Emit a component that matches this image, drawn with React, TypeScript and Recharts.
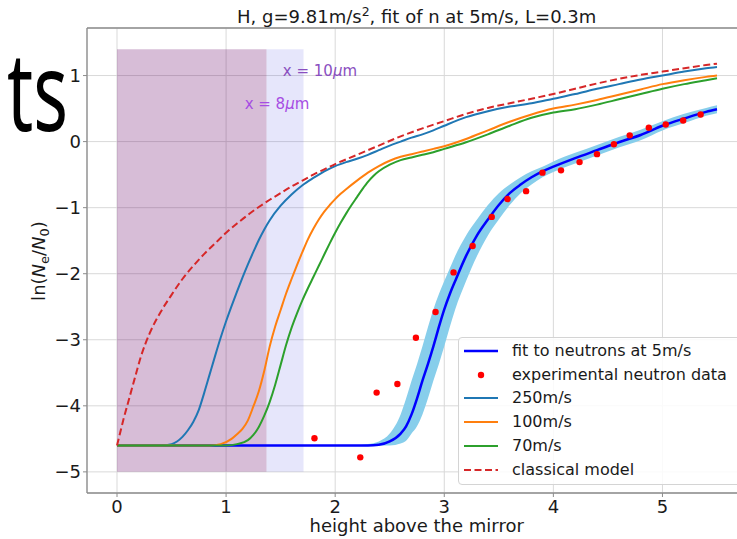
import {
  ComposedChart,
  Line,
  Area,
  Scatter,
  XAxis,
  YAxis,
  CartesianGrid,
  ReferenceArea,
  ReferenceLine,
  ReferenceDot,
  Legend,
} from 'recharts';

const FONT = '"DejaVu Sans", sans-serif';

// x = height above the mirror, y = ln(Ne/N0)
const fitCurve: [number, number][] = [
  [0, -4.6], [1, -4.6], [2, -4.6], [2.3, -4.6], [2.4, -4.59], [2.5, -4.54], [2.6, -4.42],
  [2.65, -4.31], [2.7, -4.13], [2.75, -3.89], [2.8, -3.62], [2.85, -3.37], [2.9, -3.1],
  [2.95, -2.81], [3.0, -2.54], [3.05, -2.31], [3.1, -2.11], [3.2, -1.73], [3.3, -1.42],
  [3.4, -1.18], [3.5, -0.96], [3.6, -0.78], [3.7, -0.65], [3.8, -0.54], [3.9, -0.45],
  [4.0, -0.38], [4.2, -0.25], [4.4, -0.13], [4.6, -0.01], [4.8, 0.1], [5.0, 0.24],
  [5.2, 0.35], [5.4, 0.45], [5.5, 0.49],
];

// [x, low, high] of the uncertainty band around the fit
const fitBand: [number, number, number][] = [
  [2.2, -4.6, -4.6], [2.3, -4.6, -4.58], [2.4, -4.6, -4.54], [2.5, -4.6, -4.42],
  [2.6, -4.57, -4.13], [2.65, -4.53, -3.89], [2.7, -4.42, -3.62], [2.75, -4.31, -3.37],
  [2.8, -4.13, -3.1], [2.85, -3.89, -2.81], [2.9, -3.62, -2.54], [2.95, -3.37, -2.31],
  [3.0, -3.1, -2.11], [3.05, -2.81, -1.92], [3.1, -2.54, -1.73], [3.2, -2.11, -1.42],
  [3.3, -1.73, -1.18], [3.4, -1.42, -0.96], [3.5, -1.18, -0.78], [3.6, -0.96, -0.65],
  [3.7, -0.78, -0.54], [3.8, -0.65, -0.45], [3.9, -0.54, -0.38], [4.0, -0.46, -0.3],
  [4.2, -0.33, -0.17], [4.4, -0.21, -0.05], [4.6, -0.09, 0.07], [4.8, 0.02, 0.18],
  [5.0, 0.17, 0.31], [5.2, 0.28, 0.42], [5.4, 0.39, 0.51], [5.5, 0.43, 0.55],
];

const neutronData: [number, number][] = [
  [1.81, -4.49], [2.23, -4.78], [2.38, -3.8], [2.57, -3.67], [2.74, -2.97], [2.92, -2.58],
  [3.085, -1.98], [3.26, -1.58], [3.435, -1.14], [3.58, -0.87], [3.75, -0.75], [3.9, -0.47],
  [4.07, -0.435], [4.24, -0.31], [4.4, -0.19], [4.555, -0.04], [4.7, 0.095], [4.875, 0.21],
  [5.03, 0.26], [5.19, 0.32], [5.35, 0.41],
];

const v250: [number, number][] = [
  [0, -4.6], [0.4, -4.6], [0.5, -4.58], [0.55, -4.54], [0.6, -4.47], [0.65, -4.37],
  [0.7, -4.24], [0.75, -4.06], [0.8, -3.8], [0.85, -3.52], [0.9, -3.24], [0.95, -2.97],
  [1.0, -2.72], [1.05, -2.49], [1.1, -2.27], [1.15, -2.06], [1.2, -1.86], [1.25, -1.67],
  [1.3, -1.49], [1.35, -1.33], [1.4, -1.19], [1.5, -0.97], [1.6, -0.8], [1.7, -0.66],
  [1.8, -0.55], [1.9, -0.45], [2.0, -0.37], [2.1, -0.31], [2.2, -0.26], [2.3, -0.2],
  [2.4, -0.13], [2.5, -0.06], [2.6, 0.0], [2.7, 0.06], [2.8, 0.11], [2.9, 0.17], [3.0, 0.24],
  [3.2, 0.37], [3.4, 0.46], [3.6, 0.53], [3.8, 0.58], [4.0, 0.65], [4.2, 0.72], [4.4, 0.8],
  [4.6, 0.87], [4.8, 0.94], [5.0, 1.0], [5.2, 1.06], [5.4, 1.11], [5.5, 1.13],
];

const v100: [number, number][] = [
  [0, -4.6], [0.85, -4.6], [0.95, -4.58], [1.05, -4.5], [1.1, -4.43], [1.15, -4.35],
  [1.2, -4.22], [1.25, -4.01], [1.3, -3.78], [1.35, -3.47], [1.4, -3.1], [1.45, -2.8],
  [1.5, -2.55], [1.55, -2.3], [1.6, -2.08], [1.65, -1.87], [1.7, -1.67], [1.75, -1.48],
  [1.8, -1.32], [1.85, -1.18], [1.9, -1.06], [1.95, -0.96], [2.0, -0.87], [2.05, -0.79],
  [2.1, -0.72], [2.2, -0.59], [2.3, -0.47], [2.4, -0.37], [2.5, -0.29], [2.6, -0.23],
  [2.7, -0.19], [2.8, -0.15], [2.9, -0.11], [3.0, -0.07], [3.2, 0.04], [3.4, 0.17],
  [3.6, 0.3], [3.8, 0.41], [4.0, 0.5], [4.2, 0.56], [4.4, 0.63], [4.6, 0.71], [4.8, 0.79],
  [5.0, 0.87], [5.2, 0.93], [5.4, 0.98], [5.5, 1.0],
];

const v70: [number, number][] = [
  [0, -4.6], [1.0, -4.6], [1.1, -4.58], [1.2, -4.52], [1.25, -4.44], [1.3, -4.32],
  [1.35, -4.15], [1.4, -3.94], [1.45, -3.68], [1.5, -3.38], [1.55, -3.08], [1.6, -2.82],
  [1.65, -2.6], [1.7, -2.4], [1.75, -2.22], [1.8, -2.05], [1.85, -1.88], [1.9, -1.71],
  [1.95, -1.54], [2.0, -1.38], [2.05, -1.23], [2.1, -1.09], [2.15, -0.96], [2.2, -0.84],
  [2.25, -0.72], [2.3, -0.61], [2.35, -0.52], [2.4, -0.45], [2.5, -0.35], [2.6, -0.28],
  [2.7, -0.24], [2.8, -0.2], [2.9, -0.16], [3.0, -0.11], [3.2, -0.01], [3.4, 0.11],
  [3.6, 0.24], [3.8, 0.36], [4.0, 0.44], [4.2, 0.49], [4.4, 0.56], [4.6, 0.64], [4.8, 0.72],
  [5.0, 0.8], [5.2, 0.87], [5.4, 0.93], [5.5, 0.96],
];

const classical: [number, number][] = [
  [0, -4.6], [0.03, -4.4], [0.06, -4.2], [0.1, -3.96], [0.16, -3.6], [0.22, -3.25],
  [0.3, -2.9], [0.4, -2.58], [0.5, -2.32], [0.6, -2.08], [0.7, -1.88], [0.8, -1.7],
  [0.9, -1.54], [1.0, -1.38], [1.1, -1.24], [1.2, -1.11], [1.3, -0.99], [1.4, -0.88],
  [1.5, -0.78], [1.6, -0.68], [1.7, -0.59], [1.8, -0.5], [1.9, -0.42], [2.0, -0.34],
  [2.2, -0.2], [2.4, -0.06], [2.6, 0.08], [2.8, 0.2], [3.0, 0.31], [3.2, 0.42], [3.4, 0.51],
  [3.6, 0.58], [3.8, 0.65], [4.0, 0.72], [4.2, 0.8], [4.4, 0.88], [4.6, 0.95], [4.8, 1.01],
  [5.0, 1.06], [5.2, 1.11], [5.4, 1.16], [5.5, 1.18],
];

const xTicks = [0, 1, 2, 3, 4, 5];
const yTicks = [-5, -4, -3, -2, -1, 0, 1];
const X_DOMAIN: [number, number] = [-0.275, 5.775];
const Y_DOMAIN: [number, number] = [-5.32, 1.72];

// shaded regions: x=8um and x=10um
const span8 = { x2: 1.37, yTop: 1.4, yBottom: -5 };
const span10 = { x2: 1.71, yTop: 1.4, yBottom: -5 };

const toPts = (arr: [number, number][]) => arr.map(([x, y]) => ({ x, y }));

const legendItems = [
  { name: 'fit to neutrons at 5m/s', color: '#0000ff', kind: 'line', width: 2.5 },
  { name: 'experimental neutron data', color: '#ff0000', kind: 'dot', width: 0 },
  { name: '250m/s', color: '#1f77b4', kind: 'line', width: 2 },
  { name: '100m/s', color: '#ff7f0e', kind: 'line', width: 2 },
  { name: '70m/s', color: '#2ca02c', kind: 'line', width: 2 },
  { name: 'classical model', color: '#d62728', kind: 'dash', width: 2 },
];

const fmtTick = (v: number) => String(v).replace('-', '\u2212');

const LegendBox = () => (
  <div
    style={{
      position: 'relative',
      width: 300,
      height: 146,
      border: '1px solid #d4d4d4',
      borderRadius: 4,
      background: 'rgba(255,255,255,0.85)',
      fontFamily: FONT,
      fontSize: 16,
      color: '#1a1a1a',
    }}
  >
    {legendItems.map((it, i) => {
      const cy = 13 + i * 23.7;
      return (
        <div key={it.name} style={{ position: 'absolute', left: 0, top: cy - 12, height: 24, width: 300 }}>
          <svg width={44} height={24} style={{ position: 'absolute', left: 5, top: 0 }}>
            {it.kind === 'dot' ? (
              <circle cx={17} cy={12} r={3.2} fill={it.color} />
            ) : (
              <line
                x1={0}
                x2={34}
                y1={12}
                y2={12}
                stroke={it.color}
                strokeWidth={it.width}
                strokeDasharray={it.kind === 'dash' ? '7 3.5' : undefined}
              />
            )}
          </svg>
          <span style={{ position: 'absolute', left: 53, top: 2, whiteSpace: 'nowrap', lineHeight: '20px' }}>
            {it.name}
          </span>
        </div>
      );
    })}
  </div>
);

const spanLabel = (text: string, color: string) => (props: any) => {
  const vb = props.viewBox || {};
  return (
    <text x={vb.x + 1} y={vb.y + 1} fill={color} fontFamily={FONT} fontSize={15}>
      {text}
      <tspan fontStyle="italic">μ</tspan>m
    </text>
  );
};

export default function App() {
  return (
    <div
      style={{
        position: 'fixed',
        left: 0,
        top: 0,
        width: 737,
        height: 539,
        overflow: 'hidden',
        background: '#fff',
      }}
    >
      <ComposedChart
        width={747}
        height={539}
        margin={{ top: 28, right: 0, left: 0, bottom: 0 }}
        style={{ fontFamily: FONT }}
      >
        <ReferenceArea
          x1={span8.x2}
          x2={span10.x2}
          y1={span10.yBottom}
          y2={span10.yTop}
          fill="#4040e0"
          fillOpacity={0.13}
          stroke="none"
        />
        <ReferenceArea
          x1={0}
          x2={span8.x2}
          y1={span8.yBottom}
          y2={span8.yTop}
          fill="#640064"
          fillOpacity={0.26}
          stroke="none"
        />
        <CartesianGrid stroke="#d9d9d9" strokeWidth={1} />
        <XAxis
          type="number"
          dataKey="x"
          domain={X_DOMAIN}
          ticks={xTicks}
          allowDataOverflow
          height={46}
          tickSize={4}
          tickMargin={3}
          tickFormatter={fmtTick}
          tick={{ fontSize: 18, fill: '#1a1a1a', fontFamily: FONT }}
          axisLine={{ stroke: '#8c8c8c', strokeWidth: 1.3 }}
          tickLine={{ stroke: '#8c8c8c' }}
        />
        <YAxis
          type="number"
          dataKey="y"
          domain={Y_DOMAIN}
          ticks={yTicks}
          allowDataOverflow
          width={87}
          tickSize={4}
          tickMargin={2}
          tickFormatter={fmtTick}
          tick={{ fontSize: 18, fill: '#1a1a1a', fontFamily: FONT }}
          axisLine={{ stroke: '#8c8c8c', strokeWidth: 1.3 }}
          tickLine={{ stroke: '#8c8c8c' }}
        />
        <ReferenceLine y={Y_DOMAIN[1]} stroke="#8c8c8c" strokeWidth={1.3} />
        <ReferenceDot
          x={1.52}
          y={1.0}
          r={1}
          fill="none"
          stroke="none"
          label={spanLabel('x = 10', '#8a4fbf')}
        />
        <ReferenceDot
          x={1.17}
          y={0.5}
          r={1}
          fill="none"
          stroke="none"
          label={spanLabel('x = 8', '#a64de3')}
        />
        <Area
          data={fitBand.map(([x, lo, hi]) => ({ x, range: [lo, hi] }))}
          dataKey="range"
          type="monotone"
          fill="#87ceeb"
          fillOpacity={1}
          stroke="none"
          isAnimationActive={false}
          legendType="none"
        />
        <Line
          data={toPts(fitCurve)}
          dataKey="y"
          type="monotone"
          stroke="#0000ff"
          strokeWidth={2.5}
          dot={false}
          isAnimationActive={false}
        />
        <Scatter
          data={toPts(neutronData)}
          dataKey="y"
          fill="#ff0000"
          shape={(p: any) => <circle cx={p.cx} cy={p.cy} r={3.2} fill="#ff0000" />}
          isAnimationActive={false}
        />
        <Line data={toPts(v250)} dataKey="y" type="monotone" stroke="#1f77b4" strokeWidth={2} dot={false} isAnimationActive={false} />
        <Line data={toPts(v100)} dataKey="y" type="monotone" stroke="#ff7f0e" strokeWidth={2} dot={false} isAnimationActive={false} />
        <Line data={toPts(v70)} dataKey="y" type="monotone" stroke="#2ca02c" strokeWidth={2} dot={false} isAnimationActive={false} />
        <Line
          data={toPts(classical)}
          dataKey="y"
          type="monotone"
          stroke="#d62728"
          strokeWidth={2}
          strokeDasharray="7 3.5"
          dot={false}
          isAnimationActive={false}
        />
        <Legend
          layout="vertical"
          align="center"
          verticalAlign="middle"
          content={() => <LegendBox />}
          wrapperStyle={{ position: 'absolute', left: 458, top: 337, width: 300, height: 147 }}
        />
      </ComposedChart>
      <svg
        width={737}
        height={539}
        style={{ position: 'absolute', left: 0, top: 0, pointerEvents: 'none' }}
        fontFamily={FONT}
      >
        <text
          transform="translate(68 131) scale(0.66 1)"
          textAnchor="end"
          fontFamily='"Noto Sans", sans-serif'
          fontSize={110}
          fill="#000"
        >
          ts
        </text>
        <text x={416.7} y={23} textAnchor="middle" fontSize={18} fill="#1a1a1a">
          H, g=9.81m/s<tspan dy={-7} fontSize={12.5}>2</tspan>
          <tspan dy={7}>, fit of n at 5m/s, L=0.3m</tspan>
        </text>
        <text x={416.7} y={532} textAnchor="middle" fontSize={18} fill="#1a1a1a">
          height above the mirror
        </text>
        <text
          transform="translate(44.5 261) rotate(-90)"
          textAnchor="middle"
          fontSize={18}
          fill="#1a1a1a"
        >
          ln(<tspan fontStyle="italic">N</tspan>
          <tspan dy={4} fontSize={13}>e</tspan>
          <tspan dy={-4}>/</tspan>
          <tspan fontStyle="italic">N</tspan>
          <tspan dy={4} fontSize={13}>0</tspan>
          <tspan dy={-4}>)</tspan>
        </text>
      </svg>
    </div>
  );
}
